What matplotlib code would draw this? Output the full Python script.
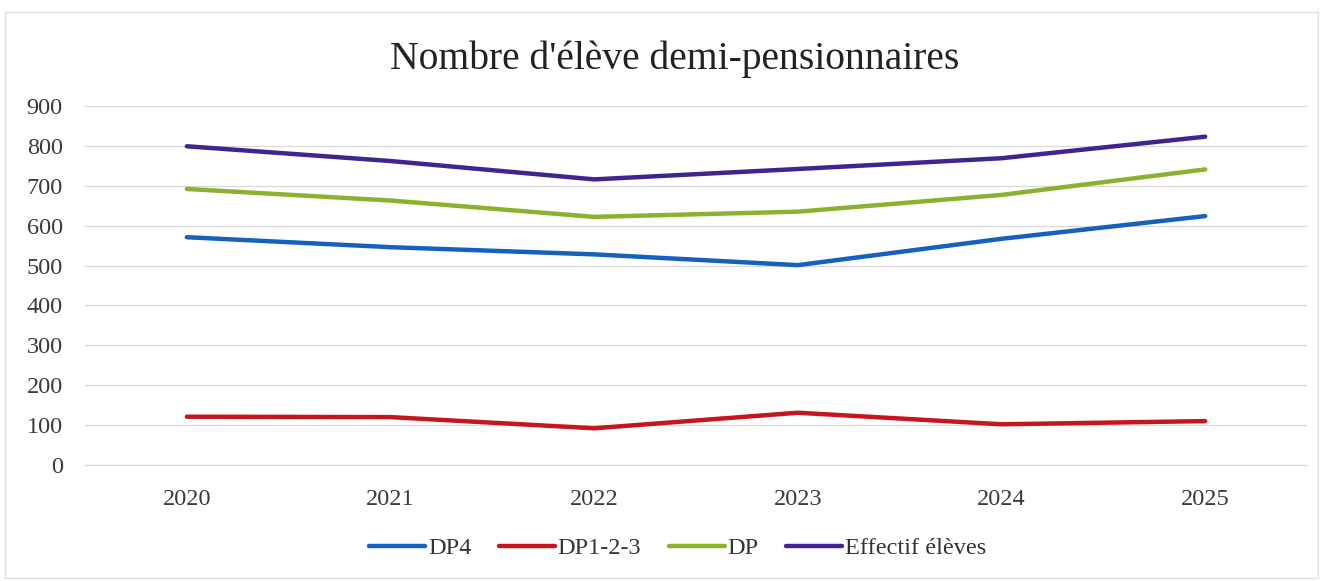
import numpy as np
import matplotlib.pyplot as plt
from matplotlib.patches import Rectangle

years = ["2020", "2021", "2022", "2023", "2024", "2025"]
dp4 = [571, 546, 528, 501, 567, 624]
dp123 = [121, 120, 92, 131, 102, 110]
dp = [692, 663, 622, 635, 677, 741]
effectif = [799, 762, 716, 742, 769, 823]

series_names = ["DP4", "DP1-2-3", "DP", "Effectif élèves"]
colors = ["#1660BE", "#C4161C", "#8CB12E", "#40258F"]

plt.rcParams['font.family'] = ['Liberation Serif', 'DejaVu Serif']

fig = plt.figure(figsize=(13.26, 5.81), dpi=100)
ax = fig.add_axes([0.0641, 0.1997, 0.9216, 0.6179])

x = np.arange(len(years))
for vals, name, c in zip([dp4, dp123, dp, effectif], series_names, colors):
    ax.plot(x, vals, color=c, lw=3.2, label=name, solid_capstyle='round')

ax.set_xlim(-0.5, len(years) - 0.5)
ax.set_ylim(0, 900)
ax.set_yticks(range(0, 901, 100))
ax.set_xticks(x)
ax.set_xticklabels(years)
ax.grid(axis='y', color='#d9d9d9', lw=0.9)
ax.axhline(0, color='#d9d9d9', lw=0.9, clip_on=False, zorder=0)
ax.set_axisbelow(True)
for s in ax.spines.values():
    s.set_visible(False)
ax.tick_params(length=0, labelsize=17.5, colors='#3a3a3a')
ax.tick_params(axis='y', pad=16)
ax.tick_params(axis='x', pad=17)

fig.text(0.509, 0.898, "Nombre d'élève demi-pensionnaires", ha='center', va='center',
         fontsize=28.5, color='#222222')

ax.legend(loc='upper center', bbox_to_anchor=(0.485, -0.14), ncol=4, frameon=False,
          fontsize=17.5, handlelength=2.3, handletextpad=0.1, columnspacing=1.15,
          labelcolor='#333333')

fig.patches.append(Rectangle((0.004, 0.005), 0.99, 0.975, transform=fig.transFigure,
                             fill=False, edgecolor='#e0e0e0', lw=1))

fig.savefig("out.png", dpi=100)
